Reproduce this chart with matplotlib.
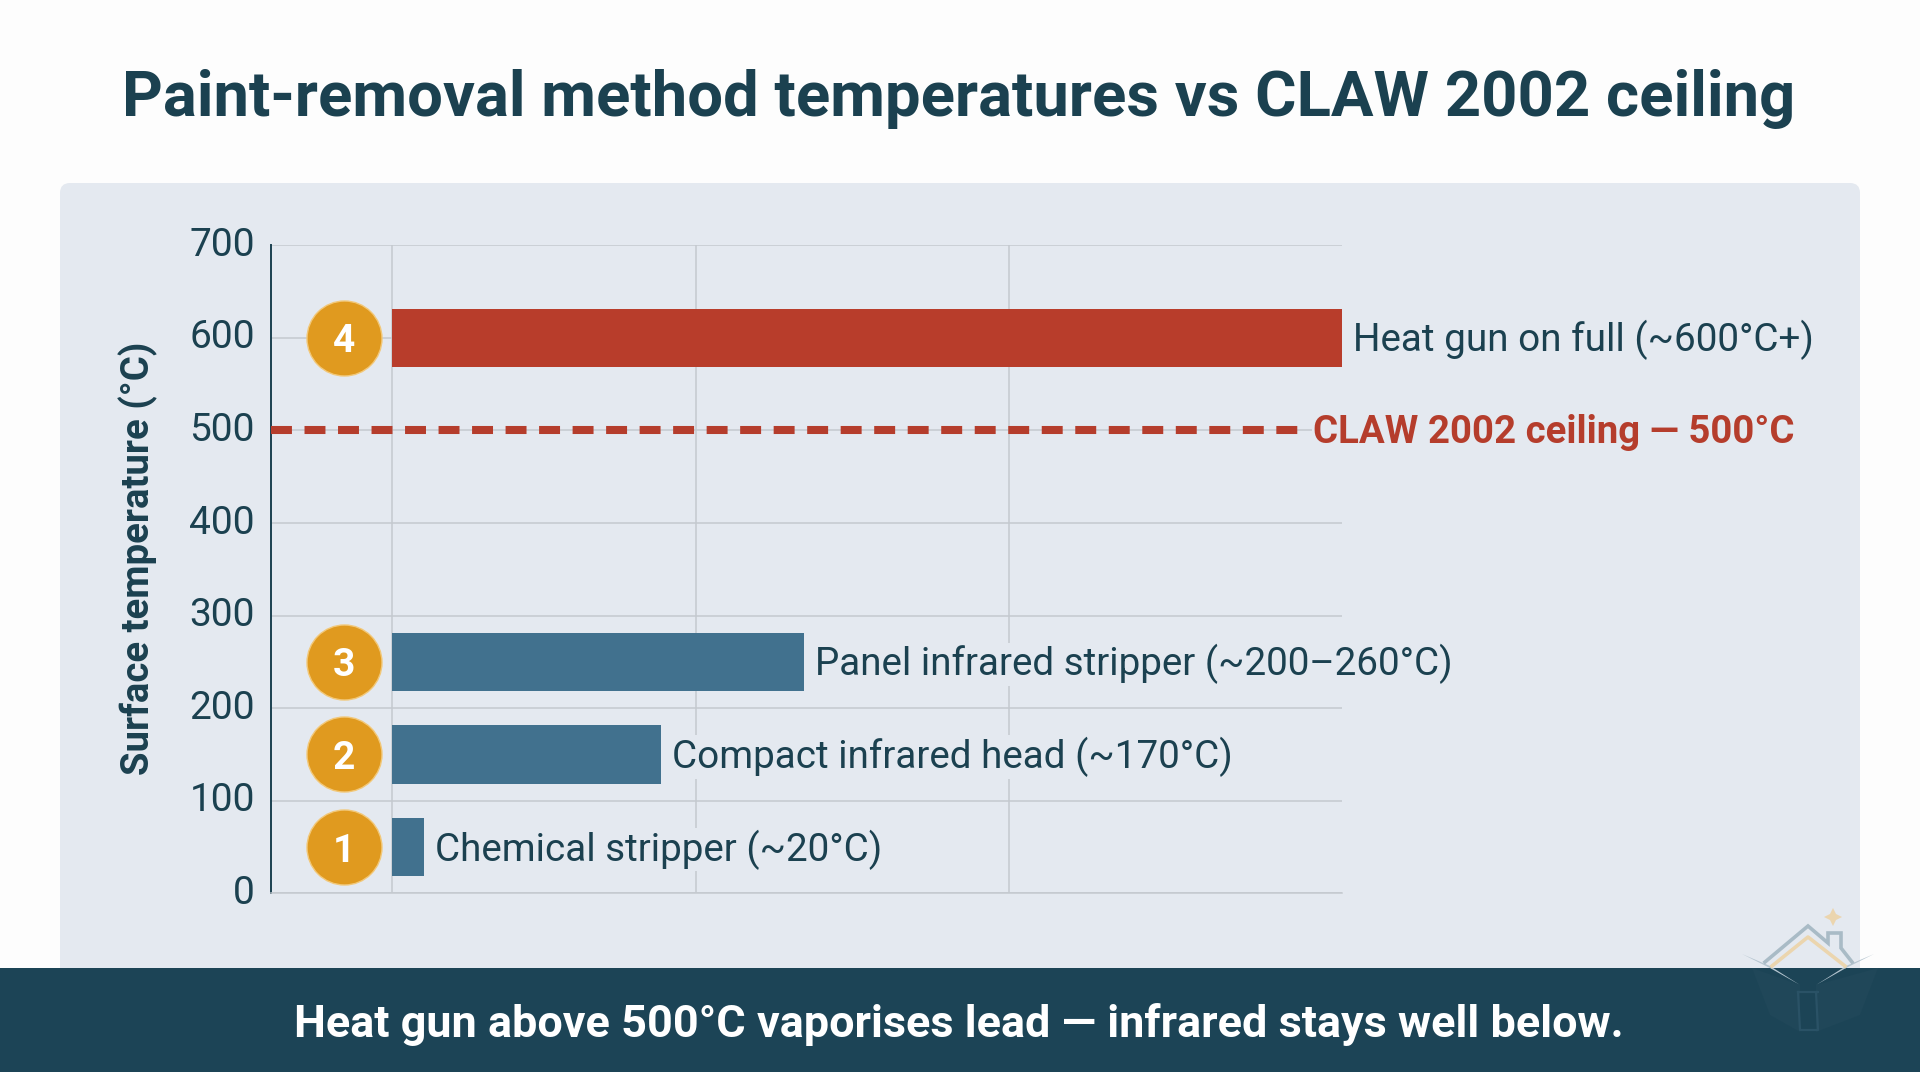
import matplotlib
matplotlib.use('Agg')
import matplotlib.pyplot as plt
from matplotlib.patches import FancyBboxPatch, Polygon, Rectangle

# chart values
methods = ['Chemical stripper (~20°C)', 'Compact infrared head (~170°C)',
           'Panel infrared stripper (~200–260°C)', 'Heat gun on full (~600°C+)']
temps = [20, 170, 260, 600]
rows = [50, 150, 250, 600]
badges = ['1', '2', '3', '4']
bar_colors = ['#41718E', '#41718E', '#41718E', '#B83D2B']
y_ticks = [0, 100, 200, 300, 400, 500, 600, 700]
x_grid = [0, 192, 390]
ceiling = 500

DARK = '#1B4150'
RED = '#B53D2C'
GOLD = '#E09A1F'
PANEL = '#E4E9F0'
GRID = '#C4C9CF'
FONT = 'Roboto'
W, H = 1920, 1072

fig = plt.figure(figsize=(W / 100, H / 100), dpi=100, facecolor='#FDFDFD')

# page furniture drawn in pixel coordinates
page = fig.add_axes([0, 0, 1, 1], zorder=0)
page.set_xlim(0, W)
page.set_ylim(H, 0)
page.axis('off')
page.add_patch(FancyBboxPatch((68, 191), 1784, 800, boxstyle='round,pad=8,rounding_size=10',
                              fc=PANEL, ec='none'))
page.add_patch(Rectangle((0, 968), W, 104, fc='#1C4456', ec='none'))
page.text(959, 99, 'Paint-removal method temperatures vs CLAW 2002 ceiling',
          family=FONT, weight='bold', fontsize=45.6, color=DARK, ha='center', va='center')
page.text(959, 1025, 'Heat gun above 500°C vaporises lead — infrared stays well below.',
          family=FONT, weight='bold', fontsize=32.4, color='white', ha='center', va='center')
page.text(138, 558, 'Surface temperature (°C)', family=FONT, weight='bold', fontsize=27.6,
          color=DARK, rotation=90, ha='center', va='center')

# small house-and-book logo in the corner
page.plot([1765, 1808, 1828, 1828, 1841, 1841, 1852], [962, 926, 943, 933, 933, 948, 962],
          color='#A9BBC6', lw=2.6, solid_joinstyle='miter')
page.plot([1772, 1808, 1845], [966, 937, 966], color='#EBD5AE', lw=2.6)
page.add_patch(Polygon([(1833, 908), (1836, 914), (1842, 917), (1836, 920), (1833, 926),
                        (1830, 920), (1824, 917), (1830, 914)], fc='#EBD5AE', ec='none'))
page.add_patch(Polygon([(1742, 954), (1770, 966), (1800, 985), (1770, 968)], fc='#B4C4CF', ec='none'))
page.add_patch(Polygon([(1874, 954), (1846, 966), (1816, 985), (1846, 968)], fc='#B4C4CF', ec='none'))
page.add_patch(Polygon([(1752, 968), (1800, 985), (1800, 1032), (1770, 1015)], fc='#204759', ec='none'))
page.add_patch(Polygon([(1878, 968), (1816, 985), (1816, 1032), (1860, 1015)], fc='#204759', ec='none'))
page.plot([1798, 1800, 1802, 1818, 1816, 1818, 1798], [992, 1030, 1030, 1030, 992, 992, 992],
          color='#2A5266', lw=1.6)

ax = fig.add_axes([271 / W, 1 - 893.3 / H, (1342 - 271) / W, (893.3 - 245.3) / H], zorder=1)
ax.patch.set_alpha(0)
ax.set_xlim(-76.4, 600)
ax.set_ylim(0, 700)

ax.set_yticks(y_ticks)
ax.set_xticks(x_grid)
ax.set_xticklabels([])
ax.tick_params(length=0)
ax.tick_params(axis='y', labelsize=28, labelcolor=DARK, pad=11.5)
for lab in ax.get_yticklabels():
    lab.set_family(FONT)
    lab.set_va('center')
ax.grid(color=GRID, lw=1.1)
ax.set_axisbelow(True)

for side in ['top', 'right']:
    ax.spines[side].set_visible(False)
ax.spines['bottom'].set_color(GRID)
ax.spines['bottom'].set_linewidth(1.1)
ax.spines['left'].set_color(DARK)
ax.spines['left'].set_linewidth(1.4)

ax.barh(rows, temps, height=63.4, color=bar_colors, zorder=3)

# value labels knock out the gridlines behind them
for temp, row, name in zip(temps, rows, methods):
    ax.annotate(name, (temp, row), xytext=(8, 1.5), textcoords='offset points',
                family=FONT, fontsize=27.8, color=DARK, va='center_baseline', annotation_clip=False,
                bbox=dict(fc=PANEL, ec='none', pad=1), zorder=4)

ax.plot([-76.4, 573], [ceiling, ceiling], color=RED, lw=5.8, dashes=(2.6, 1.56),
        dash_capstyle='butt', zorder=3)
ax.annotate('CLAW 2002 ceiling — 500°C', (573, ceiling), xytext=(10, 1.5), textcoords='offset points',
            family=FONT, weight='bold', fontsize=27.6, color=RED, va='center_baseline',
            annotation_clip=False, bbox=dict(fc=PANEL, ec='none', pad=1), zorder=4)

# numbered badges left of the bars
badge_x = -30.3
ax.scatter([badge_x] * len(rows), rows, s=2916, color=GOLD, edgecolor='#F2C879', linewidth=1, zorder=5)
for row, badge in zip(rows, badges):
    ax.text(badge_x, row, badge, family=FONT, weight='bold', fontsize=28, color='white',
            ha='center', va='center_baseline', zorder=6)

fig.savefig('out.png', dpi=100, facecolor=fig.get_facecolor())
